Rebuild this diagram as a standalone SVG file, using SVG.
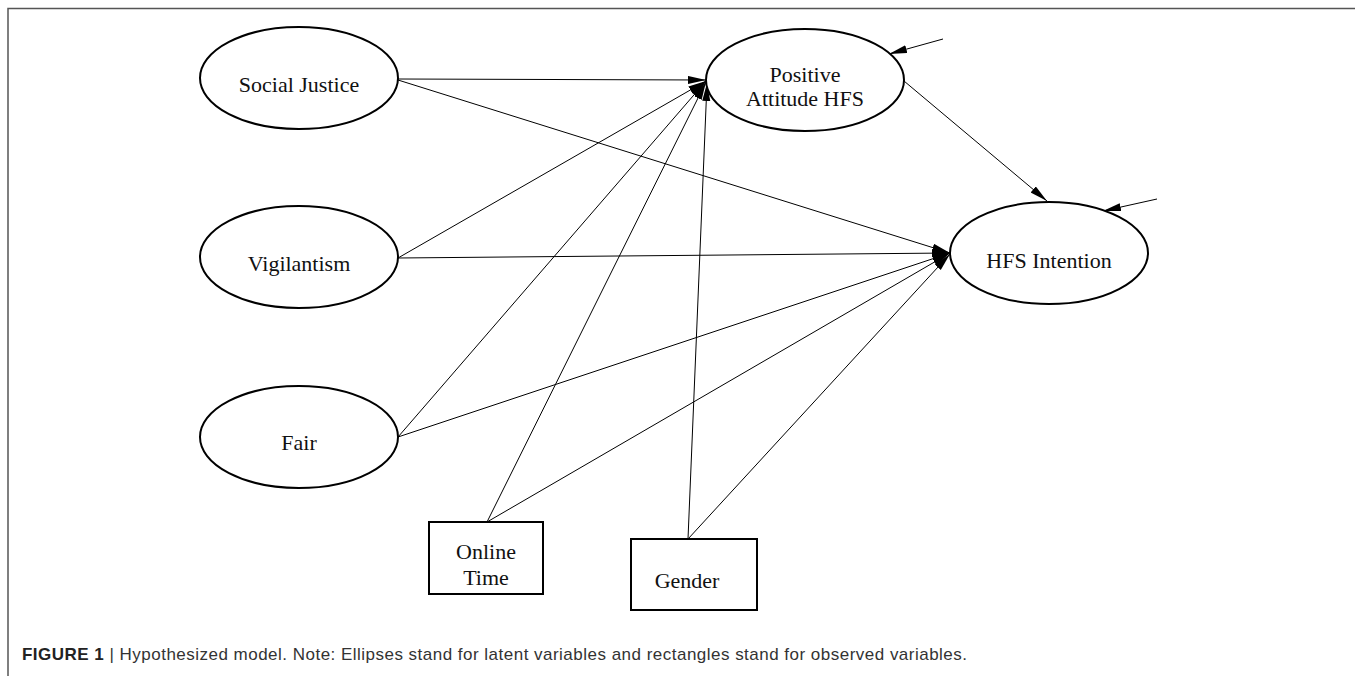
<svg xmlns="http://www.w3.org/2000/svg" width="1355" height="676" viewBox="0 0 1355 676">
<style>
.node ellipse, .node rect { fill: #fff; stroke: #000; stroke-width: 2; }
.lbl { font-family: "Liberation Serif", "Times New Roman", serif; font-size: 22px; fill: #111; text-anchor: middle; }
.edge { stroke: #000; stroke-width: 1; fill: none; marker-end: url(#ah); }
.cap { font-family: "Liberation Sans", Arial, sans-serif; font-size: 17px; fill: #333; }
.frame { stroke: #555; stroke-width: 1.5; fill: none; }
</style>
<defs>
<marker id="ah" markerUnits="userSpaceOnUse" markerWidth="20" markerHeight="10" refX="18" refY="4" orient="auto">
<path d="M0,0 L18,4 L0,8 z" fill="#000"/>
</marker>
</defs>
<rect width="1355" height="676" fill="#fff"/>
<path class="frame" d="M8,676 L8,8.5 L1355,8.5"/>
<g id="connectors">
<line class="edge" x1="398" y1="79" x2="706" y2="80"/>
<line class="edge" x1="398" y1="80" x2="950" y2="253"/>
<line class="edge" x1="398" y1="258" x2="706" y2="81"/>
<line class="edge" x1="398" y1="258" x2="950" y2="253"/>
<line class="edge" x1="398" y1="437" x2="706" y2="81"/>
<line class="edge" x1="398" y1="437" x2="950" y2="253"/>
<line class="edge" x1="487" y1="522" x2="706" y2="82"/>
<line class="edge" x1="487" y1="522" x2="950" y2="253"/>
<line class="edge" x1="688" y1="539" x2="707" y2="83"/>
<line class="edge" x1="688" y1="539" x2="950" y2="254"/>
<line class="edge" x1="904" y1="81" x2="1047" y2="201"/>
<line class="edge" x1="943" y1="39" x2="889" y2="54"/>
<line class="edge" x1="1157" y1="199" x2="1103" y2="211"/>
</g>
<g id="social-justice" class="node">
<ellipse cx="299" cy="78" rx="99" ry="51"/>
<text class="lbl" x="299" y="92">Social Justice</text>
</g>
<g id="vigilantism" class="node">
<ellipse cx="299" cy="257" rx="99" ry="51"/>
<text class="lbl" x="299" y="271">Vigilantism</text>
</g>
<g id="fair" class="node">
<ellipse cx="299" cy="437" rx="99" ry="51"/>
<text class="lbl" x="299" y="450">Fair</text>
</g>
<g id="positive-attitude" class="node">
<ellipse cx="805" cy="80" rx="99" ry="51"/>
<text class="lbl" x="805" y="82">Positive</text>
<text class="lbl" x="805" y="106">Attitude HFS</text>
</g>
<g id="hfs-intention" class="node">
<ellipse cx="1049" cy="253" rx="99" ry="51"/>
<text class="lbl" x="1049" y="268">HFS Intention</text>
</g>
<g id="online-time" class="node">
<rect x="429" y="522" width="114" height="72"/>
<text class="lbl" x="486" y="559">Online</text>
<text class="lbl" x="486" y="585">Time</text>
</g>
<g id="gender" class="node">
<rect x="631" y="539" width="126" height="71"/>
<text class="lbl" x="687" y="588">Gender</text>
</g>
<text class="cap" x="22" y="660" textLength="945" lengthAdjust="spacing"><tspan font-weight="bold" fill="#222">FIGURE 1</tspan> | Hypothesized model. Note: Ellipses stand for latent variables and rectangles stand for observed variables.</text>
</svg>
